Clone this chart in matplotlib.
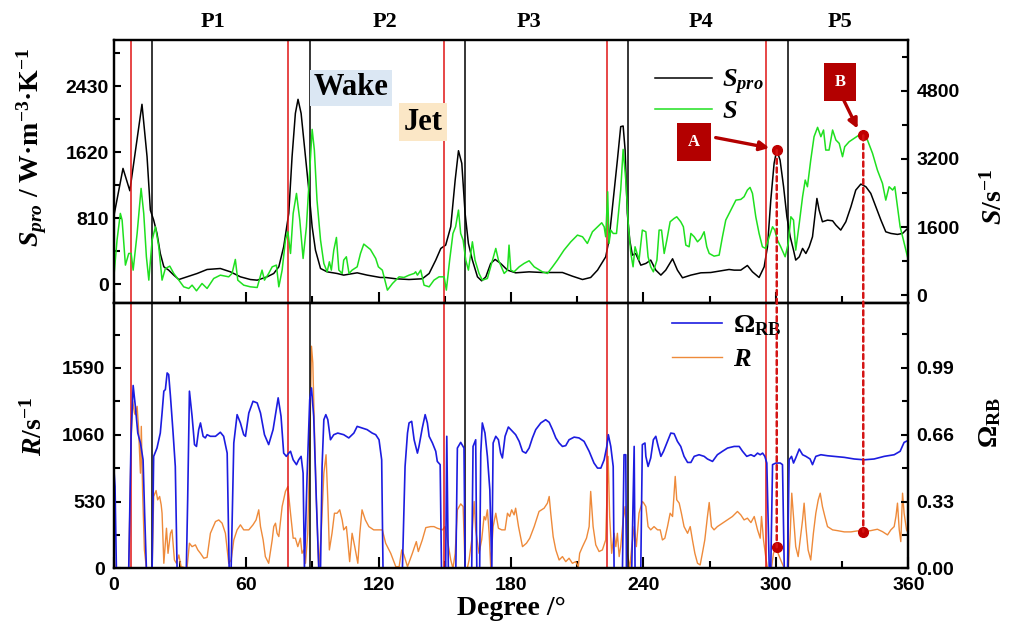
import numpy as np
import matplotlib
matplotlib.use('Agg')
import matplotlib.pyplot as plt
import matplotlib.transforms as mtransforms
from matplotlib.patches import ConnectionPatch
from matplotlib.ticker import MultipleLocator, FormatStrFormatter

# (degree, value)
spro_pts = [(0, 830), (4.2, 1423), (7.3, 1149), (12.8, 2209), (15.1, 1566), (16.6, 912), (18.1, 789), (19.6, 626),
            (21.1, 380), (22.7, 217), (24.9, 176), (27.2, 115), (29.5, 61), (33.2, 94), (37.8, 135), (42.3, 184),
            (48.3, 196), (52.9, 155), (57.4, 94), (61.9, 61), (65.0, 53), (69.5, 94), (72.5, 135), (74.8, 217),
            (77.0, 462), (79.3, 871), (80.8, 1566), (82.3, 2098), (83.5, 2270), (84.9, 2098), (86.4, 1689),
            (88.4, 1157), (89.9, 708), (91.4, 421), (93.7, 196), (96.7, 155), (101.2, 135), (104.2, 115),
            (110.3, 143), (114.8, 115), (120.8, 86), (123.2, 86), (127.8, 70), (133.8, 61), (139.8, 70),
            (142.9, 135), (145.9, 299), (148.2, 442), (150.4, 483), (152.7, 708), (154.7, 1280), (156.2, 1640),
            (157.7, 1485), (159.2, 871), (160.7, 503), (162.5, 299), (164.8, 94), (166.7, 45), (168.6, 94),
            (170.8, 258), (172.8, 307), (175.3, 258), (178.4, 176), (182.1, 143), (188.2, 155), (194.2, 147),
            (203.3, 147), (207.8, 102), (212.4, 61), (216.1, 86), (219.2, 176), (222.9, 339), (224.4, 544),
            (226.3, 1035), (228.2, 1526), (229.7, 1935), (230.8, 1943), (231.7, 1648), (232.7, 871), (233.8, 544),
            (235.0, 360), (236.5, 380), (238.8, 237), (241.1, 258), (243.3, 299), (245.6, 176), (247.9, 115),
            (250.1, 176), (253.2, 315), (255.4, 176), (257.7, 82), (261.5, 115), (266.0, 143), (270.5, 147),
            (275.1, 168), (278.8, 184), (281.1, 176), (284.1, 176), (287.1, 233), (289.4, 155), (292.4, 86),
            (294.7, 217), (296.2, 462), (297.7, 1035), (299.2, 1485), (300.4, 1648), (301.9, 1526), (303.5, 1198),
            (305.0, 830), (306.5, 585), (308.0, 421), (309.0, 299), (310.6, 339), (312.1, 442), (313.6, 380),
            (315.1, 462), (316.6, 585), (318.6, 1055), (319.6, 912), (321.1, 769), (323.4, 789), (325.7, 781),
            (327.2, 728), (329.4, 667), (331.7, 769), (334.0, 953), (336.2, 1157), (338.5, 1231), (340.8, 1198),
            (343.0, 1117), (345.3, 953), (347.6, 789), (349.8, 646), (352.1, 626), (355.1, 614), (357.4, 626),
            (360, 695)]

s_pts = [(0, 392), (1.5, 1294), (3.0, 1921), (3.8, 1764), (5.3, 706), (6.8, 980), (7.9, 980), (8.8, 588),
         (10.6, 1450), (12.4, 2509), (13.6, 1921), (14.8, 902), (15.9, 353), (17.4, 1294), (18.9, 1607),
         (20.4, 1137), (21.9, 353), (23.4, 627), (25.4, 682), (27.2, 510), (29.5, 353), (31.7, 196), (34.0, 157),
         (35.5, 235), (37.5, 102), (40.0, 274), (42.3, 157), (45.3, 392), (48.3, 470), (52.1, 431), (53.6, 510),
         (55.1, 839), (56.2, 353), (58.9, 235), (61.9, 196), (65.0, 180), (67.2, 588), (68.3, 353), (70.2, 510),
         (71.8, 666), (73.7, 706), (74.8, 196), (76.3, 588), (77.8, 1294), (78.9, 1490), (80.1, 980),
         (81.3, 1921), (82.8, 2391), (84.3, 1764), (85.8, 862), (87.3, 1607), (88.7, 2862), (89.9, 3896),
         (90.9, 3410), (92.1, 2234), (93.7, 1294), (95.2, 745), (96.7, 549), (97.7, 784), (98.6, 588),
         (99.7, 1058), (100.9, 1356), (102.0, 588), (103.5, 510), (104.2, 823), (105.4, 902), (106.6, 510),
         (108.0, 588), (110.3, 666), (111.8, 980), (113.3, 1200), (116.3, 1074), (118.7, 862), (119.9, 666),
         (121.7, 588), (124.0, 118), (126.3, 274), (129.3, 431), (131.5, 416), (133.8, 470), (136.1, 510),
         (136.8, 549), (137.6, 470), (139.1, 588), (140.6, 235), (142.9, 196), (145.1, 353), (147.4, 431),
         (149.7, 431), (150.7, 118), (152.2, 823), (153.7, 1450), (154.9, 1607), (156.2, 1999), (157.2, 1450),
         (158.3, 1294), (159.5, 823), (160.7, 588), (162.5, 1254), (163.7, 823), (165.5, 510), (167.0, 353),
         (169.3, 392), (171.6, 823), (173.1, 1098), (174.3, 823), (175.3, 706), (176.9, 510), (178.4, 588),
         (179.1, 1176), (179.9, 588), (181.4, 549), (183.7, 666), (185.9, 745), (188.2, 808), (190.5, 666),
         (194.2, 549), (196.5, 510), (198.8, 666), (201.0, 823), (204.0, 1058), (207.1, 1254), (210.1, 1411),
         (212.4, 1372), (214.6, 1215), (216.9, 1490), (219.2, 1607), (221.1, 1701), (222.2, 1607), (222.9, 1372),
         (223.8, 2430), (224.4, 1215), (225.2, 1529), (226.3, 1450), (227.8, 1450), (229.7, 2470), (230.8, 3426),
         (232.0, 2705), (233.2, 1607), (234.3, 980), (235.3, 666), (236.2, 1137), (238.0, 823), (239.5, 1529),
         (241.1, 1490), (242.1, 902), (243.3, 666), (244.5, 549), (246.1, 823), (247.1, 1529), (248.2, 1529),
         (249.4, 980), (250.6, 1294), (252.1, 1725), (253.9, 1803), (255.1, 1842), (256.9, 1725), (258.1, 1607),
         (259.2, 1176), (260.7, 1137), (261.5, 1450), (263.0, 1372), (264.5, 1254), (266.0, 1333), (267.5, 1490),
         (268.7, 1137), (269.8, 980), (272.0, 917), (274.3, 941), (275.8, 1372), (277.3, 1764), (279.6, 1999),
         (281.9, 2234), (284.1, 2250), (285.6, 2313), (287.1, 2470), (288.3, 2532), (289.4, 2391), (290.9, 1842),
         (292.4, 1450), (293.9, 1137), (295.4, 1098), (297.0, 1372), (298.5, 1607), (299.5, 1529), (300.7, 1294),
         (302.2, 1137), (304.2, 902), (305.6, 1215), (306.8, 1842), (308.0, 1764), (309.0, 1058), (310.6, 1686),
         (312.1, 2313), (313.3, 2705), (314.3, 2548), (315.8, 3175), (317.3, 3724), (318.9, 3944), (320.4, 3724),
         (321.6, 3881), (322.6, 3410), (324.1, 3410), (325.7, 3881), (327.2, 3646), (328.7, 3567), (330.2, 3254),
         (331.2, 3489), (333.2, 3606), (335.5, 3685), (337.7, 3763), (339.6, 3755), (341.5, 3646), (343.8, 3332),
         (346.0, 2940), (348.3, 2626), (349.8, 2234), (351.3, 2548), (352.9, 2470), (353.9, 2548), (355.1, 2078),
         (356.3, 1607), (357.8, 1294), (360, 823)]

omega_pts = [(0, 0.503), (0.6, 0.404), (1.2, 0), (6.8, 0), (7.9, 0.668), (8.8, 0.903), (9.8, 0.800), (10.9, 0.668),
             (12.1, 0.619), (13.3, 0.536), (14.0, 0.272), (14.8, 0), (17.4, 0), (18.1, 0.553), (19.6, 0.594),
             (21.1, 0.668), (21.9, 0.767), (22.7, 0.875), (23.4, 0.883), (24.2, 0.965), (24.9, 0.957), (25.7, 0.850),
             (26.9, 0.668), (27.9, 0.503), (28.7, 0), (32.9, 0), (33.5, 0.338), (34.3, 0.875), (35.5, 0.751),
             (36.6, 0.611), (37.5, 0.602), (38.5, 0.685), (39.3, 0.718), (40.5, 0.652), (41.5, 0.644), (42.3, 0.660),
             (43.8, 0.652), (46.1, 0.652), (48.3, 0.672), (49.8, 0.652), (51.4, 0.569), (52.3, 0), (53.2, 0),
             (54.4, 0.619), (55.9, 0.759), (57.4, 0.718), (58.9, 0.660), (59.7, 0.652), (61.2, 0.767), (63.1, 0.825),
             (65.0, 0.817), (66.5, 0.767), (68.3, 0.660), (70.2, 0.611), (72.2, 0.685), (74.5, 0.842), (75.8, 0.751),
             (77.0, 0.569), (78.2, 0.553), (79.3, 0.569), (80.1, 0.578), (81.3, 0.536), (82.8, 0.512), (83.8, 0.536),
             (84.9, 0.553), (85.8, 0.470), (86.4, 0), (87.6, 0.454), (88.8, 0.833), (89.6, 0.891), (90.6, 0.751),
             (91.8, 0.338), (92.9, 0), (93.7, 0), (94.4, 0.503), (95.2, 0.734), (96.1, 0.759), (97.0, 0.734),
             (98.2, 0.635), (99.7, 0.660), (101.5, 0.668), (104.2, 0.660), (106.5, 0.644), (108.8, 0.668),
             (110.3, 0.701), (112.5, 0.693), (114.8, 0.685), (117.1, 0.668), (118.7, 0.660), (120.2, 0.635),
             (121.4, 0.536), (122.0, 0), (130.8, 0), (132.0, 0.503), (133.1, 0.668), (133.8, 0.718), (135.0, 0.726),
             (136.1, 0.635), (137.6, 0.569), (138.3, 0.602), (139.8, 0.693), (141.1, 0.759), (142.1, 0.718),
             (142.9, 0.652), (144.4, 0.619), (145.9, 0.578), (146.6, 0.528), (147.9, 0.512), (148.5, 0), (150.4, 0),
             (150.9, 0.652), (151.6, 0), (155.0, 0), (155.7, 0.594), (157.2, 0.622), (158.7, 0.594), (159.2, 0),
             (162.2, 0), (162.8, 0.602), (164.0, 0.635), (164.5, 0), (165.8, 0), (166.3, 0.569), (167.0, 0.718),
             (168.2, 0.668), (169.3, 0.553), (170.4, 0.388), (171.3, 0), (171.9, 0.619), (173.1, 0.652),
             (174.3, 0.635), (175.3, 0.569), (176.1, 0.545), (177.3, 0.652), (178.8, 0.698), (180.6, 0.677),
             (182.1, 0.660), (183.7, 0.627), (185.2, 0.578), (186.7, 0.569), (188.2, 0.594), (189.7, 0.644),
             (191.2, 0.685), (193.5, 0.718), (195.7, 0.734), (197.3, 0.721), (198.8, 0.685), (200.3, 0.644),
             (201.8, 0.619), (203.3, 0.602), (204.8, 0.606), (206.3, 0.635), (208.6, 0.648), (210.8, 0.644),
             (213.1, 0.627), (215.4, 0.578), (217.6, 0.520), (219.2, 0.495), (220.7, 0.495), (222.2, 0.536),
             (223.4, 0.602), (224.1, 0.660), (225.2, 0.602), (226.3, 0.503), (226.7, 0), (230.5, 0), (231.2, 0.561),
             (232.0, 0.561), (232.3, 0), (234.7, 0), (235.8, 0.602), (236.2, 0), (238.8, 0), (239.5, 0.611),
             (240.7, 0.619), (241.1, 0.553), (242.1, 0.503), (243.3, 0.545), (244.5, 0.635), (245.6, 0.652),
             (246.7, 0.602), (247.9, 0.553), (249.1, 0.578), (250.6, 0.619), (252.4, 0.668), (253.9, 0.665),
             (255.4, 0.627), (256.9, 0.602), (258.4, 0.553), (260.0, 0.523), (261.5, 0.523), (263.0, 0.553),
             (265.2, 0.561), (267.5, 0.553), (269.0, 0.540), (271.3, 0.528), (273.5, 0.561), (275.8, 0.578),
             (278.1, 0.594), (281.1, 0.602), (283.4, 0.602), (284.9, 0.578), (286.8, 0.553), (288.7, 0.561),
             (290.2, 0.553), (291.7, 0.569), (292.9, 0.561), (294.0, 0.569), (295.0, 0.553), (295.9, 0.520),
             (297.0, 0), (297.7, 0), (298.5, 0.512), (300.0, 0.520), (302.0, 0.520), (303.0, 0.512), (303.8, 0),
             (305.3, 0), (306.0, 0.536), (307.1, 0.553), (308.0, 0.520), (309.0, 0.545), (310.6, 0.589),
             (312.1, 0.561), (313.6, 0.553), (315.5, 0.540), (316.6, 0.512), (318.1, 0.553), (320.4, 0.561),
             (323.4, 0.556), (326.4, 0.553), (331.0, 0.548), (335.5, 0.540), (340.0, 0.536), (344.5, 0.540),
             (349.1, 0.553), (353.6, 0.561), (356.3, 0.578), (358.1, 0.622), (360, 0.632)]

r_pts = [(0, 133), (0.6, 0), (6.8, 0), (7.9, 1020), (8.6, 1325), (9.4, 1232), (9.8, 1219), (10.6, 1285), (11.2, 1126),
         (12.1, 755), (12.5, 1126), (13.1, 596), (13.9, 146), (14.8, 0), (17.4, 0), (18.1, 570), (19.2, 617),
         (19.9, 543), (20.8, 570), (21.5, 504), (21.9, 437), (22.7, 40), (23.9, 318), (24.6, 119), (25.7, 278),
         (26.4, 305), (27.5, 66), (28.4, 40), (29.5, 106), (30.5, 13), (33.2, 0), (34.3, 199), (35.5, 172),
         (37.0, 186), (38.1, 146), (39.3, 119), (40.8, 80), (42.3, 87), (43.8, 278), (46.1, 371), (47.6, 384),
         (49.1, 358), (50.6, 278), (52.1, 40), (53.2, 66), (54.4, 225), (55.9, 305), (57.4, 345), (58.9, 305),
         (61.2, 305), (63.1, 345), (64.5, 384), (65.7, 464), (66.5, 331), (67.7, 225), (68.7, 93), (70.2, 40),
         (71.8, 225), (72.5, 331), (73.3, 358), (74.0, 278), (74.8, 252), (76.3, 490), (77.8, 610), (78.9, 649),
         (80.1, 437), (81.3, 239), (82.3, 239), (83.4, 172), (84.6, 239), (85.3, 119), (86.1, 146), (86.9, 40),
         (87.9, 278), (88.8, 941), (89.6, 1762), (90.2, 1630), (90.9, 1126), (91.8, 543), (92.9, 0), (94.0, 278),
         (95.2, 755), (96.2, 901), (97.0, 543), (97.7, 146), (98.9, 278), (100.0, 437), (101.2, 437), (102.4, 464),
         (103.5, 384), (104.2, 305), (105.4, 331), (106.0, 225), (106.9, 53), (108.0, 278), (109.2, 172),
         (110.6, 40), (111.5, 278), (112.5, 464), (114.0, 384), (115.6, 331), (117.8, 305), (118.7, 305),
         (120.5, 305), (121.7, 305), (123.2, 199), (125.5, 119), (127.8, 13), (129.3, 13), (130.5, 146),
         (131.5, 106), (133.1, 13), (135.3, 119), (137.1, 212), (138.0, 133), (139.8, 225), (141.4, 323),
         (143.6, 331), (145.1, 331), (146.6, 318), (148.9, 305), (150.1, 331), (151.2, 225), (152.7, 66),
         (153.7, 0), (154.7, 119), (155.7, 464), (157.2, 511), (158.3, 490), (159.2, 0), (160.2, 0), (161.0, 66),
         (162.2, 225), (163.3, 530), (164.0, 305), (165.5, 119), (166.7, 225), (167.8, 411), (168.5, 384),
         (169.3, 464), (170.1, 278), (170.8, 13), (171.9, 331), (173.1, 437), (174.3, 318), (175.8, 305),
         (177.3, 305), (178.4, 437), (179.4, 411), (180.3, 464), (181.4, 424), (182.1, 477), (183.4, 331),
         (185.2, 172), (187.0, 199), (188.5, 239), (190.5, 331), (192.7, 451), (195.0, 477), (196.5, 517),
         (197.3, 570), (198.0, 437), (199.1, 252), (200.3, 146), (201.8, 66), (203.3, 93), (204.8, 53),
         (206.3, 80), (207.8, 40), (209.3, 53), (210.5, 13), (211.1, 119), (212.4, 172), (214.2, 239),
         (215.4, 331), (216.1, 610), (217.2, 331), (218.4, 186), (219.9, 133), (221.4, 146), (222.9, 225),
         (224.0, 888), (224.7, 411), (225.6, 119), (226.7, 278), (227.5, 172), (228.2, 278), (229.0, 93),
         (229.7, 172), (230.8, 384), (231.7, 490), (232.7, 119), (233.8, 0), (234.7, 172), (235.8, 331),
         (236.8, 172), (238.0, 437), (239.5, 530), (240.0, 522), (241.1, 490), (242.1, 331), (243.3, 305),
         (244.8, 331), (246.4, 305), (247.6, 305), (248.6, 225), (249.7, 239), (250.9, 331), (252.1, 437),
         (253.2, 411), (254.4, 729), (255.1, 543), (256.2, 517), (257.2, 437), (258.4, 331), (260.0, 278),
         (261.2, 331), (262.2, 225), (263.3, 119), (264.5, 40), (265.7, 27), (266.7, 119), (267.8, 225),
         (269.0, 411), (269.8, 522), (270.8, 331), (272.0, 305), (273.5, 331), (275.8, 358), (278.1, 384),
         (280.3, 411), (282.6, 451), (284.1, 424), (285.6, 384), (287.1, 398), (288.7, 363), (290.2, 411),
         (291.7, 305), (292.9, 239), (293.5, 411), (294.4, 225), (295.4, 93), (296.2, 0), (298.0, 0),
         (298.9, 119), (300.0, 159), (301.0, 119), (302.2, 66), (303.8, 0), (305.7, 0), (306.5, 278),
         (307.2, 596), (308.0, 411), (309.0, 172), (310.1, 93), (311.0, 225), (312.1, 384), (312.8, 517),
         (313.6, 331), (314.6, 146), (315.8, 66), (317.0, 278), (318.1, 437), (319.2, 543), (320.1, 596),
         (321.1, 490), (322.2, 411), (323.4, 331), (325.7, 305), (327.9, 299), (331.0, 289), (334.0, 289),
         (337.0, 297), (339.6, 291), (343.0, 299), (346.0, 310), (348.3, 291), (350.6, 265), (352.1, 305),
         (353.6, 331), (354.4, 411), (355.1, 517), (355.9, 305), (356.6, 212), (357.4, 596), (358.1, 437),
         (359.2, 305), (360, 278)]

red_lines = [8.0, 79.1, 149.7, 223.4, 295.6]
black_lines = [17.5, 89.0, 159.2, 232.9, 305.4]

periods = ['P1', 'P2', 'P3', 'P4', 'P5']
period_x = [45, 123, 188, 266, 329]

# marked points A and B
A_deg, A_spro, A_r = 300.4, 1648, 167
B_deg, B_s, B_r = 339.6, 3755, 291

plt.rcParams['font.family'] = 'Liberation Sans'
plt.rcParams['font.weight'] = 'bold'
plt.rcParams['mathtext.fontset'] = 'custom'
plt.rcParams['mathtext.rm'] = 'Liberation Serif:bold'
plt.rcParams['mathtext.it'] = 'Liberation Serif:italic:bold'
plt.rcParams['mathtext.bf'] = 'Liberation Serif:bold'

serif = dict(family='Liberation Serif', weight='bold')
dark_red = '#b30000'

fig = plt.figure(figsize=(10.1, 6.34), dpi=100)
ax1 = fig.add_axes([0.1126, 0.5213, 0.7867, 0.4157])
ax3 = fig.add_axes([0.1126, 0.1036, 0.7867, 0.4177])
ax2 = ax1.twinx()
ax4 = ax3.twinx()

sx, sy = zip(*spro_pts)
gx, gy = zip(*s_pts)
ox, oy = zip(*omega_pts)
rx, ry = zip(*r_pts)

l1, = ax1.plot(sx, sy, color='black', lw=1.1, label=r'$S_{pro}$')
l2, = ax2.plot(gx, gy, color='#1fe01f', lw=1.1, label=r'$S$')
l4, = ax4.plot(ox, oy, color='#1c1ce0', lw=1.2, label=r'Ω$_{\mathrm{RB}}$')
l3, = ax3.plot(rx, ry, color='#ee8a3a', lw=1.0, label=r'$R$')

for ax in (ax1, ax3):
    for v in red_lines:
        ax.axvline(v, color='#e01515', lw=1.1)
    for v in black_lines:
        ax.axvline(v, color='black', lw=1.1)

ax1.set_xlim(0, 360)
ax3.set_xlim(0, 360)
ax1.set_ylim(-233, 2998)
ax2.set_ylim(-196, 5998)
ax3.set_ylim(0, 2101)
ax4.set_ylim(0, 1.308)

ax1.set_yticks([0, 810, 1620, 2430])
ax1.yaxis.set_minor_locator(MultipleLocator(405))
ax2.set_yticks([0, 1600, 3200, 4800])
ax2.yaxis.set_minor_locator(MultipleLocator(800))
ax3.set_yticks([0, 530, 1060, 1590])
ax3.yaxis.set_minor_locator(MultipleLocator(265))
ax4.set_yticks([0, 0.33, 0.66, 0.99])
ax4.yaxis.set_minor_locator(MultipleLocator(0.165))
ax4.yaxis.set_major_formatter(FormatStrFormatter('%.2f'))
for ax in (ax1, ax3):
    ax.set_xticks(np.arange(0, 361, 60))
    ax.xaxis.set_minor_locator(MultipleLocator(30))

for ax in (ax1, ax2, ax3, ax4):
    ax.tick_params(which='both', direction='in', width=1.5, labelsize=14, top=False)
    ax.tick_params(axis='y', which='major', length=5)
    ax.tick_params(axis='y', which='minor', length=4)
    ax.tick_params(axis='x', which='major', length=8)
    ax.tick_params(axis='x', which='minor', length=5)
    for s in ax.spines.values():
        s.set_linewidth(1.6)
ax1.tick_params(right=False, labelbottom=False)
ax3.tick_params(right=False, pad=6)
ax2.tick_params(left=False, bottom=False, pad=6)
ax4.tick_params(left=False, bottom=False, pad=6)

# axis titles
ax1.text(-0.103, 0.594, r'$S_{pro}$' + ' / W·m$^{-3}$·K$^{-1}$', transform=ax1.transAxes,
         rotation=90, ha='center', va='center', fontsize=20, **serif)
ax2.text(1.108, 0.404, r'$S$/s$^{-1}$', transform=ax1.transAxes,
         rotation=90, ha='center', va='center', fontsize=20, **serif)
ax3.text(-0.100, 0.534, r'$R$/s$^{-1}$', transform=ax3.transAxes,
         rotation=90, ha='center', va='center', fontsize=20, **serif)
ax4.text(1.103, 0.549, r'Ω$_{\mathrm{RB}}$', transform=ax3.transAxes,
         rotation=90, ha='center', va='center', fontsize=20, **serif)
ax3.set_xlabel('Degree /°', fontsize=20, labelpad=2, **serif)

trans = mtransforms.blended_transform_factory(ax1.transData, ax1.transAxes)
for name, x in zip(periods, period_x):
    ax1.text(x, 1.068, name, transform=trans, ha='center', va='center', fontsize=16, **serif)

ax2.text(107.6, 2409, 'Wake', transform=ax1.transData, ha='center', va='center', fontsize=22,
         bbox=dict(boxstyle='square,pad=0.12', facecolor='#dbe7f3', edgecolor='none'), **serif)
ax2.text(140.2, 1990, 'Jet', transform=ax1.transData, ha='center', va='center', fontsize=22,
         bbox=dict(boxstyle='square,pad=0.15', facecolor='#fbe7c6', edgecolor='none'), **serif)

# A / B markers
for lab, xy in (('A', (263, 1746)), ('B', (329, 2482))):
    ax2.text(xy[0], xy[1], lab, transform=ax1.transData, ha='center', va='center', fontsize=12,
             color='white', bbox=dict(boxstyle='square,pad=0.65', facecolor=dark_red, edgecolor='none'),
             **serif)
ax2.annotate('', xy=(298.3, 1668), xytext=(271.5, 1807), xycoords=ax1.transData, textcoords=ax1.transData,
             arrowprops=dict(arrowstyle='-|>', color=dark_red, lw=2.4, mutation_scale=14))
ax2.annotate('', xy=(337.6, 1880), xytext=(330.2, 2290), xycoords=ax1.transData, textcoords=ax1.transData,
             arrowprops=dict(arrowstyle='-|>', color=dark_red, lw=2.4, mutation_scale=14))

dot_kw = dict(color='#c00000', ms=7, zorder=6)
ax2.plot(A_deg, A_spro, 'o', transform=ax1.transData, **dot_kw)
ax2.plot(B_deg, B_s, 'o', **dot_kw)
ax4.plot(A_deg, A_r, 'o', transform=ax3.transData, **dot_kw)
ax4.plot(B_deg, B_r, 'o', transform=ax3.transData, **dot_kw)

for xa, ya, ta, yb in ((A_deg, A_spro, ax1, A_r), (B_deg, B_s, ax2, B_r)):
    con = ConnectionPatch(xyA=(xa, ya), coordsA=ta.transData, xyB=(xa, yb), coordsB=ax3.transData,
                          color='#d41414', lw=1.8, linestyle=(0, (2, 1.5)), zorder=7)
    fig.add_artist(con)

leg_font = dict(family='Liberation Serif', weight='bold', size=19)
ax2.legend([l1, l2], [l1.get_label(), l2.get_label()], loc='upper left',
           bbox_to_anchor=(0.638, 0.910), bbox_transform=fig.transFigure, frameon=False,
           prop=leg_font, handlelength=2.15, labelspacing=0.1, borderaxespad=0, handletextpad=0.4)
ax4.legend([l4, l3], [l4.get_label(), l3.get_label()], loc='upper left',
           bbox_to_anchor=(0.655, 0.522), bbox_transform=fig.transFigure, frameon=False,
           prop=leg_font, handlelength=1.9, labelspacing=0.35, borderaxespad=0, handletextpad=0.4)

fig.savefig('out.png', dpi=100)
